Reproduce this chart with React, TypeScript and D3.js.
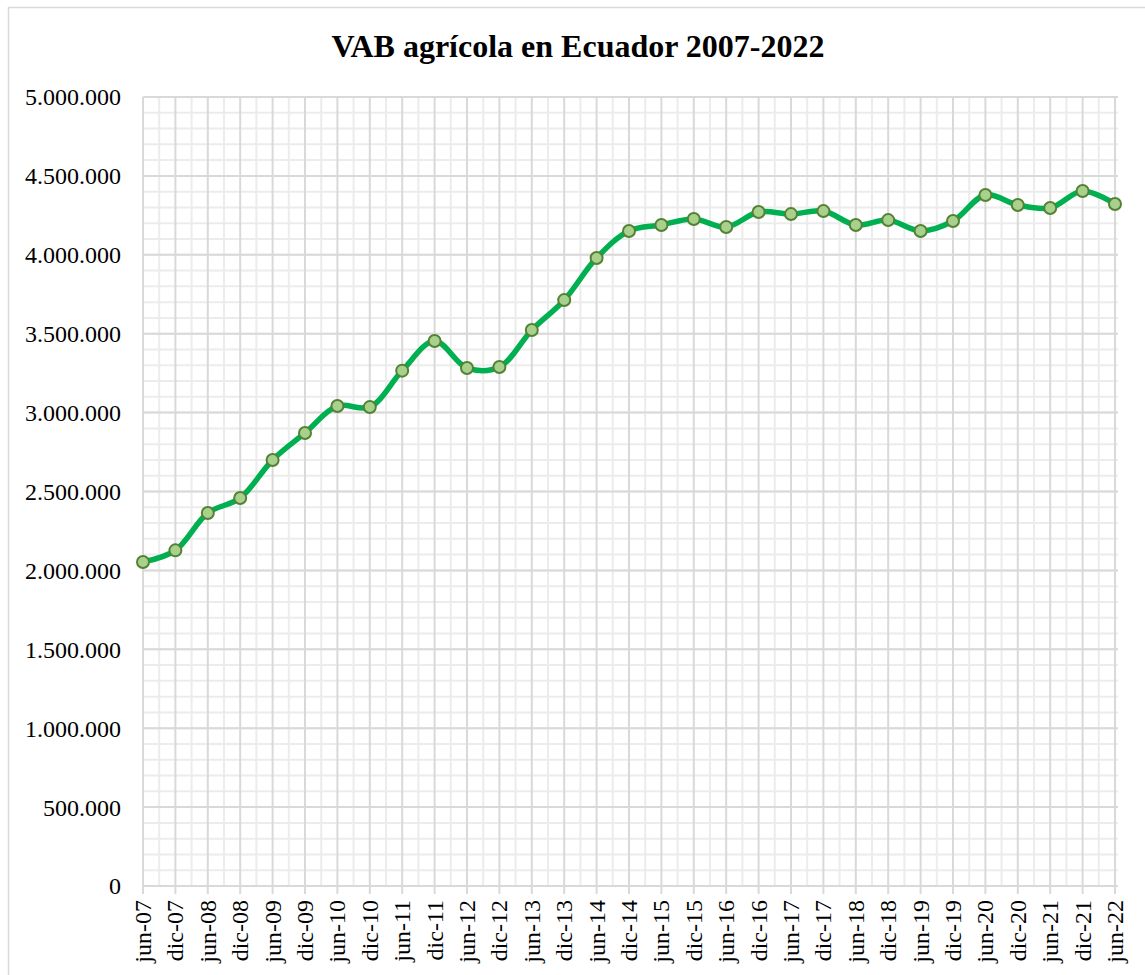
import React from "react";
import * as d3 from "d3";

const categories: string[] = [
  "jun-07", "dic-07", "jun-08", "dic-08", "jun-09", "dic-09", "jun-10", "dic-10",
  "jun-11", "dic-11", "jun-12", "dic-12", "jun-13", "dic-13", "jun-14", "dic-14",
  "jun-15", "dic-15", "jun-16", "dic-16", "jun-17", "dic-17", "jun-18", "dic-18",
  "jun-19", "dic-19", "jun-20", "dic-20", "jun-21", "dic-21", "jun-22",
];

const values: number[] = [
  2053000, 2127000, 2364000, 2459000, 2700000, 2871000, 3042000, 3035000,
  3266000, 3454000, 3283000, 3289000, 3523000, 3713000, 3980000, 4151000,
  4189000, 4227000, 4176000, 4271000, 4258000, 4277000, 4189000, 4220000,
  4151000, 4214000, 4379000, 4316000, 4297000, 4404000, 4322000,
];

const yTicks: number[] = [0, 500000, 1000000, 1500000, 2000000, 2500000, 3000000, 3500000, 4000000, 4500000, 5000000];
const yMinorTicks: number[] = d3.range(0, 5000001, 100000);

const title = "VAB agrícola en Ecuador 2007-2022";

const W = 1145;
const H = 975;
const left = 143;
const right = 1115;
const top = 97;
const bottom = 886;

const fmt = (v: number) => {
  const s = String(v);
  return s.replace(/\B(?=(\d{3})+(?!\d))/g, ".");
};

export default function App() {
  const x = d3.scalePoint<string>().domain(categories).range([left, right]);
  const y = d3.scaleLinear().domain([0, 5000000]).range([bottom, top]);
  const step = x.step();

  const line = d3
    .line<number>()
    .x((_, i) => x(categories[i]) as number)
    .y((d) => y(d))
    .curve(d3.curveCatmullRom.alpha(0.5));

  const serif = "'Liberation Serif', 'Times New Roman', serif";

  return (
    <svg
      width={W}
      height={H}
      style={{ position: "absolute", left: 0, top: 0, background: "#fff" }}
      fontFamily={serif}
    >
      <rect x={8.5} y={7.5} width={W + 10} height={H + 10} fill="#fff" stroke="#d9d9d9" strokeWidth={1.5} />
      <text x={578} y={57} textAnchor="middle" fontSize={32} fontWeight="bold" fill="#000">
        {title}
      </text>
      {/* minor horizontal grid */}
      {yMinorTicks.map((t) => (
        <line key={"hm" + t} x1={left} x2={right + 3} y1={y(t)} y2={y(t)} stroke="#ececec" strokeWidth={2} />
      ))}
      {/* minor vertical grid */}
      {categories.slice(0, -1).map((c) => (
        <line
          key={"vm" + c}
          x1={(x(c) as number) + step / 2}
          x2={(x(c) as number) + step / 2}
          y1={top}
          y2={bottom}
          stroke="#ececec"
          strokeWidth={2}
        />
      ))}
      {/* major horizontal grid */}
      {yTicks.map((t) => (
        <line key={"h" + t} x1={left} x2={right + 3} y1={y(t)} y2={y(t)} stroke="#d9d9d9" strokeWidth={2} />
      ))}
      {/* major vertical grid */}
      {categories.map((c) => (
        <line
          key={"v" + c}
          x1={x(c) as number}
          x2={x(c) as number}
          y1={top}
          y2={bottom + 8}
          stroke="#d9d9d9"
          strokeWidth={2}
        />
      ))}
      {/* y labels */}
      {yTicks.map((t) => (
        <text key={"yl" + t} x={121} y={y(t)} dy="0.35em" textAnchor="end" fontSize={24} fill="#000">
          {fmt(t)}
        </text>
      ))}
      {/* x labels */}
      {categories.map((c) => (
        <text
          key={"xl" + c}
          transform={`translate(${(x(c) as number) + 8},900) rotate(-90)`}
          textAnchor="end"
          fontSize={24}
          fill="#000"
        >
          {c}
        </text>
      ))}
      <path d={line(values) || ""} fill="none" stroke="#00b050" strokeWidth={5.5} strokeLinejoin="round" strokeLinecap="round" />
      {values.map((v, i) => (
        <circle
          key={"m" + i}
          cx={x(categories[i]) as number}
          cy={y(v)}
          r={6}
          fill="#a9d18e"
          stroke="#548235"
          strokeWidth={2}
        />
      ))}
    </svg>
  );
}
